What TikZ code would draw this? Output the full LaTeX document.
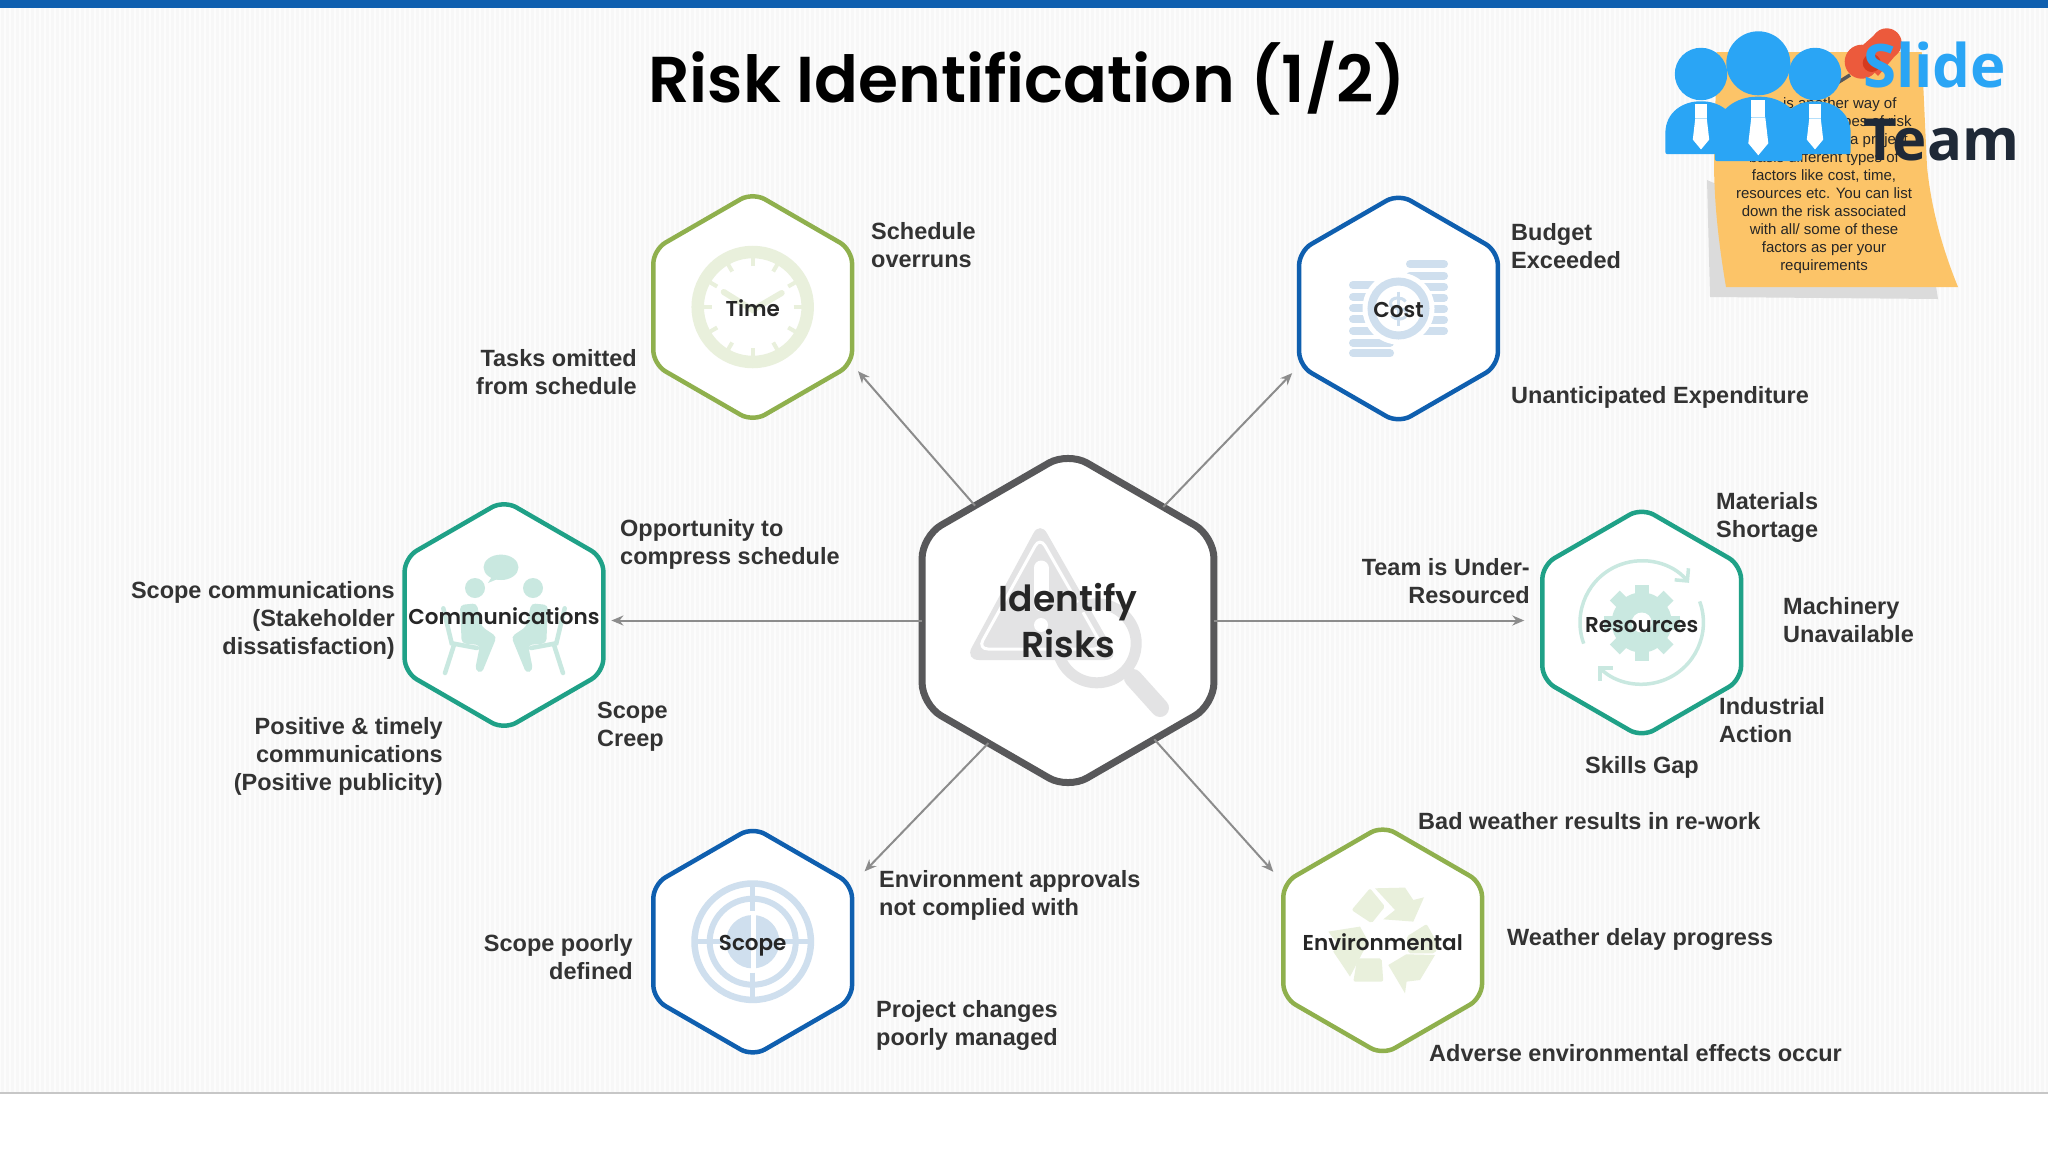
\documentclass[tikz,border=0pt]{standalone}
\usepackage{fontspec}
\setmainfont{Liberation Sans}
\newfontfamily\gothic{Poppins SemiBold}
\newfontfamily\logofont{Open Sans}
\usetikzlibrary{shapes.geometric,arrows.meta}
\definecolor{barblue}{HTML}{0F5FAF}
\definecolor{hexgreen}{HTML}{8FB04D}
\definecolor{hexteal}{HTML}{1FA187}
\definecolor{hexgray}{HTML}{58585A}
\definecolor{palegreen}{HTML}{E9F0DC}
\definecolor{paleblue}{HTML}{CFDFEE}
\definecolor{paleteal}{HTML}{C9E8E0}
\definecolor{palegray}{HTML}{E3E3E4}
\definecolor{inktext}{HTML}{333333}
\definecolor{logoblue}{HTML}{2AA5F5}
\definecolor{logodark}{HTML}{1F2937}
\definecolor{notecolor}{HTML}{FCC468}
\definecolor{pinred}{HTML}{EC5A3C}
\definecolor{pindark}{HTML}{D43A1E}
\tikzset{
  hexnode/.style={regular polygon,regular polygon sides=6,shape border rotate=30,minimum size=229.5pt,inner sep=0pt,outer sep=0pt,
    fill=white,line width=4.5pt,rounded corners=14pt},
  hexbig/.style={hexnode,minimum size=337pt,line width=7pt,rounded corners=22pt,draw=hexgray},
  hextext/.style={font=\gothic\fontsize{21.5}{21.5}\selectfont,text=black!85,inner sep=0pt},
  lefttext/.style={font=\bfseries\fontsize{23.5}{28}\selectfont,text=inktext,align=left,anchor=west,inner sep=0pt},
  righttext/.style={font=\bfseries\fontsize{23.5}{28}\selectfont,text=inktext,align=right,anchor=east,inner sep=0pt},
  risklink/.style={draw=black!45,line width=2pt,-{Stealth[length=12pt,width=10pt]}},
  notetext/.style={font=\fontsize{15}{18}\selectfont,text=black!85,inner sep=0pt}
}
\begin{document}
\begin{tikzpicture}[x=1pt,y=-1pt]
  \useasboundingbox (0,0) rectangle (2048,1152);
  \fill[white] (0,0) rectangle (2048,1152);
  \fill[black!3] (0,8) rectangle (2048,1093);
  \foreach \x in {0,5,...,2045} {
    \draw[white,line width=2pt,opacity=.75] (\x,8) -- (\x,1093);
  }
  \fill[barblue] (0,0) rectangle (2048,8);
  \draw[black!22,line width=1.5pt] (0,1093) -- (2048,1093);

  \node[font=\gothic\fontsize{64.8}{64.8}\selectfont,text=black,inner sep=0pt] (title) at (1027,78) {Risk Identification (1/2)};

  \node[hexbig] (risks) at (1068,620.5) {};
  \node[hexnode,draw=hexgreen] (time) at (752.7,307) {};
  \node[hexnode,draw=barblue] (cost) at (1398.5,308.5) {};
  \node[hexnode,draw=hexteal] (comm) at (504,615) {};
  \node[hexnode,draw=hexteal] (res) at (1641.7,622.5) {};
  \node[hexnode,draw=barblue] (scope) at (752.7,941.7) {};
  \node[hexnode,draw=hexgreen] (env) at (1382.7,940.3) {};

  \draw[risklink,shorten >=9pt] (risks.129.5) -- (time.-30);
  \draw[risklink,shorten >=10pt] (risks.50.5) -- (cost.-150);
  \draw[risklink,shorten >=8pt] (risks.west) -- (risks.west -| comm.east);
  \draw[risklink,shorten >=18pt] (risks.east) -- (risks.east -| res.west);
  \draw[risklink,shorten >=18pt] (risks.237) -- (scope.30);
  \draw[risklink,shorten >=15pt] (risks.-54) -- (env.150);

  % warning sign and lens
  \fill[palegray,rounded corners=14pt] (1040,521) -- (1119,660) -- (965,660) -- cycle;
  \draw[white,line width=3pt,rounded corners=10pt] (1040,537) -- (1104,649) -- (978,649) -- cycle;
  \draw[white,line width=15pt,line cap=round] (1041,568) -- (1041,604);
  \fill[white] (1041,625) circle (7);
  \draw[palegray,line width=11pt] (1096.7,643.3) circle (39.5);
  \draw[palegray,line width=18pt,line cap=round] (1133,678) -- (1160,708);

  % clock
  \begin{scope}[shift={(time)}]
    \draw[palegreen,line width=12.5pt] (0,0) circle (55);
    \foreach \a in {0,30,...,330} {
      \draw[palegreen,line width=4pt] (\a:41) -- (\a:50);
    }
    \draw[palegreen,line width=6pt,line cap=round] (-29,-15) -- (0,3) -- (29,-14);
  \end{scope}

  % coins
  \foreach \yy/\xb in {285/1373,296.7/1373,308.3/1373,319.3/1373,330.7/1373,342.7/1390,353.3/1390} {
    \draw[paleblue,line width=8pt,line cap=round] (1353,\yy) -- (\xb,\yy);
  }
  \foreach \yy/\xa in {264/1410,275.7/1410,286.7/1423,297.7/1423,309/1423,320/1423,331/1423} {
    \draw[paleblue,line width=8pt,line cap=round] (\xa,\yy) -- (1444,\yy);
  }
  \begin{scope}[shift={(cost)}]
    \fill[white] (0,0) circle (36);
    \draw[paleblue,line width=8pt] (0,0) circle (27);
    \draw[paleblue,line width=3pt] (0,-17) -- (0,17);
    \draw[paleblue,line width=3pt] (7,-7) .. controls (4,-12) and (-8,-12) .. (-8,-5) .. controls (-8,3) and (8,-3) .. (8,5) .. controls (8,12) and (-4,12) .. (-7,7);
  \end{scope}

  % two people talking
  \begin{scope}[shift={(comm)}]
    \fill[paleteal] (-3,-47.7) ellipse (17.5 and 12.7);
    \fill[paleteal] (-11,-40) -- (-16,-32) -- (-4,-37) -- cycle;
    \foreach \s in {1,-1} {
      \begin{scope}[xscale=\s]
        \fill[paleteal] (-29,-27) circle (10);
        \fill[paleteal,rounded corners=4pt] (-44,-10) -- (-27.3,-11.7) -- (-22.3,11.7) -- (-7.3,21.7) -- (-22.3,58.3) -- (-29,55) -- (-24,30) -- (-42.3,28.3) -- cycle;
        \draw[paleteal,line width=4.5pt,line cap=round] (-60.7,-6.7) -- (-52.3,28.3) -- (-27,33);
        \draw[paleteal,line width=4.5pt,line cap=round] (-50,30) -- (-59,58);
      \end{scope}
    }
  \end{scope}

  % gear and turning arrows
  \begin{scope}[shift={(res)},yscale=-1]
    \fill[paleteal] (0,0) circle (30);
    \foreach \a in {0,45,...,315} {
      \draw[paleteal,line width=14pt] (\a:24) -- (\a:38);
    }
    \fill[white] (0,0) circle (10);
    \draw[paleteal,line width=3.5pt,-{Straight Barb[length=9pt,width=18pt]}] (200:61.7) arc[start angle=200,end angle=40,radius=61.7];
    \draw[paleteal,line width=3.5pt,-{Straight Barb[length=9pt,width=18pt]}] (20:61.7) arc[start angle=20,end angle=-135,radius=61.7];
  \end{scope}

  % target
  \begin{scope}[shift={(scope)}]
    \draw[paleblue,line width=6.5pt] (0,0) circle (58.2);
    \draw[paleblue,line width=6pt] (0,0) circle (43);
    \fill[paleblue] (0,0) circle (26.7);
    \draw[white,line width=5pt] (1,-27) -- (1,27);
    \foreach \a in {0,90,180,270} {
      \draw[paleblue,line width=5pt] (\a:31) -- (\a:60);
    }
  \end{scope}

  % recycling arrows
  \begin{scope}[shift={(env)},shift={(0.6,-2)}]
    \fill[palegreen,rounded corners=2pt] (-31.7,-28.3) -- (-13.3,-50) -- (1.7,-31.7) -- (-11.7,-15) -- cycle;
    \fill[palegreen] (-8.3,-50) -- (21.7,-50.7) -- (30,-38.3) -- (40.7,-41) -- (30,-16.7) -- (0,-19) -- (11.7,-28.3) -- cycle;
    \fill[palegreen,rounded corners=2pt] (23.3,-1.7) -- (43.3,-14.3) -- (55,6.7) -- (51.7,15) -- (25,15) -- cycle;
    \fill[palegreen] (5,26.7) -- (23,16) -- (51.7,16.7) -- (36.7,41.7) -- (23.3,43.3) -- (21.7,55) -- cycle;
    \fill[palegreen,rounded corners=2pt] (-26,20) -- (-1.7,20) -- (0,43.3) -- (-30,43.3) -- cycle;
    \fill[palegreen] (-55,-6.7) -- (-23.3,-11.7) -- (-15,3.3) -- (-33.3,38.3) -- (-50,13.3) -- (-45,6.7) -- cycle;
  \end{scope}

  \node[hextext,font=\gothic\fontsize{36}{46}\selectfont,align=center] (riskstext) at (1068,621) {Identify\\Risks};
  \node[hextext] (timetext) at (752.7,308) {Time};
  \node[hextext] (costtext) at (1398.5,310) {Cost};
  \node[hextext] (commtext) at (504,616) {Communications};
  \node[hextext] (restext) at (1641.7,625) {Resources};
  \node[hextext] (scopetext) at (752.7,946) {Scope};
  \node[hextext] (envtext) at (1382.7,942) {Environmental};

  \node[lefttext] (timea) at (871,245) {Schedule\\overruns};
  \node[righttext] (timeb) at (637,372) {Tasks omitted\\from schedule};
  \node[lefttext] (costa) at (1511,246) {Budget\\Exceeded};
  \node[lefttext] (costb) at (1511,397) {Unanticipated Expenditure};
  \node[lefttext] (resa) at (1716,517) {Materials\\Shortage};
  \node[lefttext] (resb) at (1783,620) {Machinery\\Unavailable};
  \node[lefttext] (resc) at (1719,720) {Industrial\\Action};
  \node[lefttext,anchor=center] (resd) at (1642,767.5) {Skills Gap};
  \node[righttext] (rese) at (1530,581) {Team is Under-\\Resourced};
  \node[lefttext] (comma) at (620,544.5) {Opportunity to\\compress schedule};
  \node[righttext] (commb) at (395,620.5) {Scope communications\\(Stakeholder\\dissatisfaction)};
  \node[righttext] (commc) at (443,756) {Positive \& timely\\communications\\(Positive publicity)};
  \node[lefttext] (commd) at (597,726.5) {Scope\\Creep};
  \node[lefttext] (scopea) at (879,895.5) {Environment approvals\\not complied with};
  \node[lefttext] (scopeb) at (876,1025) {Project changes\\poorly managed};
  \node[righttext] (scopec) at (633,957) {Scope poorly\\defined};
  \node[lefttext] (enva) at (1418,821) {Bad weather results in re-work};
  \node[lefttext] (envb) at (1507,939) {Weather delay progress};
  \node[lefttext] (envc) at (1429,1053) {Adverse environmental effects occur};

  % sticky note and logo
  \fill[black!14] (1707,180) -- (1710,297) -- (1938,299) -- (1935,280) -- cycle;
  \fill[notecolor] (1716.7,52) -- (1921.7,52) -- (1927,167) .. controls (1932,215) and (1945,255) .. (1958,287) -- (1726,287) .. controls (1718,240) and (1714,200) .. (1714,160) -- cycle;
  \node[notetext,anchor=base east] (notea) at (1896.7,108) {is another way of};
  \node[notetext,anchor=base east] (noteb) at (1911.7,126) {types of risk};
  \node[notetext,anchor=base west] (notec) at (1850,144) {a project};
  \node[notetext,align=center,anchor=north] (noted) at (1824,151) {basis different types of\\factors like cost, time,\\resources etc. You can list\\down the risk associated\\with all/ some of these\\factors as per your\\requirements};
  \draw[black!65,line width=3.5pt] (1836.7,83.3) -- (1850,75);
  \fill[pinred] (1861.7,61.7) circle (17);
  \fill[pinred] (1886.7,43.3) circle (15);
  \fill[pinred] (1855,52) -- (1880,30) -- (1900,50) -- (1878,76) -- cycle;
  \fill[pindark] (1871.7,63) circle (9);
  \foreach \px/\py/\ps in {1701/74/.82,1815/74/.82,1758.3/63.3/1} {
    \begin{scope}[shift={(\px,\py)},scale=\ps]
      \fill[logoblue] (0,0) circle (32);
      \fill[logoblue,rounded corners=2pt] (-43.5,97.7) -- (-43.5,75) .. controls (-43.5,45) and (-20,33.4) .. (0,33.4) .. controls (20,33.4) and (43.5,45) .. (43.5,75) -- (43.5,97.7) -- cycle;
      \fill[white] (-7,36.7) rectangle (7,53.4);
      \fill[white] (-7,54) -- (-10,80) -- (0,92) -- (10,80) -- (7,54) -- cycle;
    \end{scope}
  }
  \node[font=\logofont\bfseries\fontsize{60}{60}\selectfont,text=logoblue,anchor=base west,inner sep=0pt] (logoa) at (1863,87) {Slide};
  \node[font=\logofont\bfseries\fontsize{58}{58}\selectfont,text=logodark,anchor=base west,inner sep=0pt] (logob) at (1863,160) {Team};
\end{tikzpicture}
\end{document}
